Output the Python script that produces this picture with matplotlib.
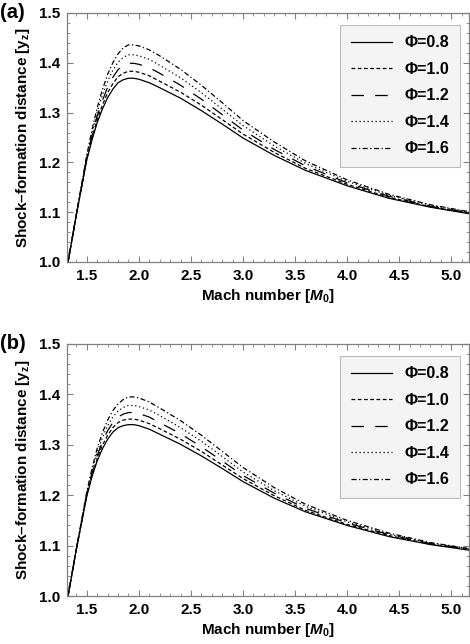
import matplotlib
matplotlib.use("Agg")
import matplotlib.pyplot as plt
from matplotlib.ticker import MultipleLocator

plt.rcParams['font.family'] = ['Liberation Sans', 'DejaVu Sans']
plt.rcParams['mathtext.fontset'] = 'custom'
plt.rcParams['mathtext.it'] = 'Liberation Sans:italic:bold'
plt.rcParams['mathtext.rm'] = 'Liberation Sans:bold'
plt.rcParams['mathtext.bf'] = 'Liberation Sans:bold'

mach = [1.32, 1.4, 1.5, 1.55, 1.6, 1.65, 1.7, 1.75, 1.8, 1.85, 1.9, 1.95, 2.0, 2.1, 2.2,
        2.4, 2.6, 2.8, 3.0, 3.3, 3.6, 4.0, 4.4, 4.8, 5.17]
phi_labels = ["Φ=0.8", "Φ=1.0", "Φ=1.2", "Φ=1.4", "Φ=1.6"]

a_08 = [1.000, 1.095, 1.205, 1.245, 1.280, 1.307, 1.330, 1.347, 1.360, 1.366, 1.369, 1.369, 1.367, 1.360, 1.350,
        1.329, 1.304, 1.277, 1.249, 1.214, 1.184, 1.153, 1.128, 1.110, 1.097]
a_10 = [1.000, 1.095, 1.207, 1.249, 1.286, 1.315, 1.340, 1.358, 1.372, 1.379, 1.383, 1.383, 1.381, 1.374, 1.363,
        1.341, 1.315, 1.286, 1.257, 1.220, 1.188, 1.156, 1.130, 1.111, 1.098]
a_12 = [1.000, 1.095, 1.209, 1.254, 1.293, 1.324, 1.351, 1.371, 1.386, 1.395, 1.399, 1.399, 1.397, 1.390, 1.379,
        1.355, 1.327, 1.296, 1.265, 1.226, 1.193, 1.159, 1.132, 1.112, 1.099]
a_14 = [1.000, 1.095, 1.212, 1.259, 1.301, 1.335, 1.363, 1.385, 1.401, 1.411, 1.416, 1.416, 1.414, 1.407, 1.395,
        1.370, 1.340, 1.307, 1.274, 1.233, 1.198, 1.162, 1.134, 1.114, 1.100]
a_16 = [1.000, 1.097, 1.215, 1.265, 1.310, 1.346, 1.377, 1.400, 1.418, 1.430, 1.436, 1.436, 1.434, 1.426, 1.414,
        1.387, 1.355, 1.320, 1.284, 1.241, 1.203, 1.165, 1.136, 1.115, 1.101]

b_08 = [1.000, 1.093, 1.198, 1.237, 1.268, 1.292, 1.311, 1.325, 1.334, 1.338, 1.340, 1.340, 1.338, 1.331, 1.321,
        1.301, 1.278, 1.253, 1.227, 1.194, 1.167, 1.140, 1.118, 1.102, 1.091]
b_10 = [1.000, 1.093, 1.200, 1.240, 1.273, 1.299, 1.319, 1.334, 1.344, 1.349, 1.351, 1.351, 1.349, 1.342, 1.332,
        1.311, 1.287, 1.260, 1.233, 1.199, 1.170, 1.142, 1.120, 1.103, 1.092]
b_12 = [1.000, 1.093, 1.202, 1.244, 1.279, 1.306, 1.328, 1.344, 1.355, 1.361, 1.364, 1.364, 1.362, 1.355, 1.344,
        1.322, 1.296, 1.268, 1.239, 1.204, 1.174, 1.145, 1.122, 1.104, 1.093]
b_14 = [1.000, 1.093, 1.204, 1.248, 1.285, 1.314, 1.338, 1.355, 1.367, 1.374, 1.378, 1.378, 1.376, 1.369, 1.358,
        1.334, 1.307, 1.277, 1.246, 1.209, 1.178, 1.147, 1.123, 1.105, 1.094]
b_16 = [1.000, 1.094, 1.207, 1.253, 1.293, 1.324, 1.349, 1.368, 1.381, 1.390, 1.395, 1.395, 1.393, 1.385, 1.373,
        1.348, 1.319, 1.287, 1.255, 1.215, 1.182, 1.150, 1.125, 1.106, 1.094]

panels = [("(a)", [a_08, a_10, a_12, a_14, a_16]),
          ("(b)", [b_08, b_10, b_12, b_14, b_16])]

styles = [dict(linestyle='-'),
          dict(linestyle=(0, (3, 2))),
          dict(linestyle=(0, (10, 9))),
          dict(linestyle=(0, (1, 2.2))),
          dict(linestyle=(0, (4, 2, 1, 2)))]

fig = plt.figure(figsize=(4.70, 6.44), dpi=100)
rects = [[67/470, 1-262/644, 402/470, 249/644],
         [67/470, 1-596/644, 402/470, 252/644]]
frame = '#808080'
fs = 11
for rect, (tag, series) in zip(rects, panels):
    ax = fig.add_axes(rect)
    for ys, lab, st in zip(series, phi_labels, styles):
        ax.plot(mach, ys, color='black', lw=0.9, label=lab, **st)
    ax.set_xlim(1.31, 5.17)
    ax.set_ylim(1.0, 1.5)
    ax.xaxis.set_major_locator(MultipleLocator(0.5))
    ax.xaxis.set_minor_locator(MultipleLocator(0.1))
    ax.yaxis.set_major_locator(MultipleLocator(0.1))
    ax.yaxis.set_minor_locator(MultipleLocator(0.02))
    ax.xaxis.set_major_formatter(plt.FormatStrFormatter('%.1f'))
    ax.yaxis.set_major_formatter(plt.FormatStrFormatter('%.1f'))
    ax.tick_params(which='both', direction='in', top=True, right=True, color=frame,
                   labelsize=fs)
    ax.tick_params(axis='x', which='major', pad=5)
    ax.tick_params(axis='y', which='major', pad=5)
    ax.tick_params(which='major', length=4, width=0.8)
    ax.tick_params(which='minor', length=2, width=0.6)
    for lbl in ax.get_xticklabels() + ax.get_yticklabels():
        lbl.set_fontweight('bold')
    for sp in ax.spines.values():
        sp.set_color(frame)
        sp.set_linewidth(0.9)
    ax.set_xlabel(r"Mach number [$M_0$]", fontsize=fs, fontweight='bold', labelpad=3)
    ax.set_ylabel("Shock–formation distance [y$_\\mathrm{z}$]", fontsize=fs, fontweight='bold', labelpad=5)
    leg = ax.legend(loc='upper right', bbox_to_anchor=(0.978, 0.952), borderaxespad=0,
                    handlelength=2.6, prop=dict(weight='bold', size=11.5), labelspacing=0.72,
                    fancybox=False, framealpha=1, borderpad=0.65, handletextpad=0.8)
    leg.get_frame().set_facecolor('#f4f4f4')
    leg.get_frame().set_edgecolor('#bbbbbb')
    leg.get_frame().set_linewidth(0.8)
    ax.text(-0.166, 1.0, tag, transform=ax.transAxes, fontsize=14.5, fontweight='bold',
            ha='left', va='center')

fig.savefig('out.png', dpi=100)
